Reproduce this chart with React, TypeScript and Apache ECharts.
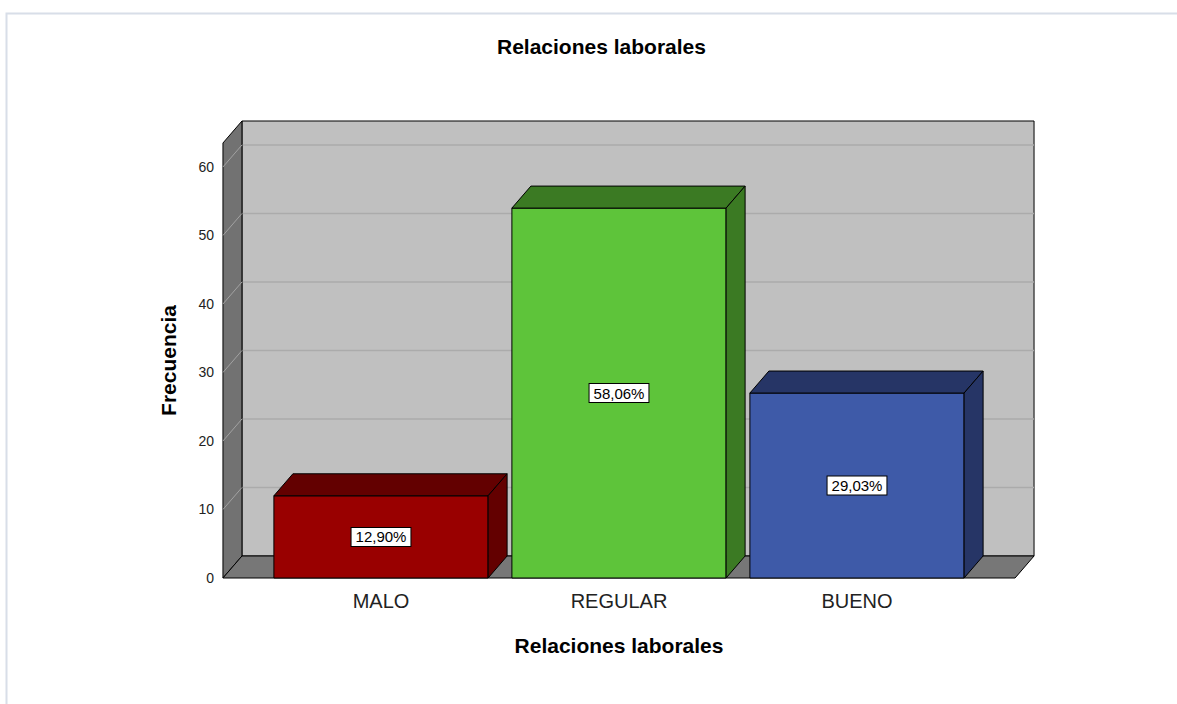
import React, { useEffect, useRef } from "react";
import * as echarts from "echarts";

const categories = ["MALO", "REGULAR", "BUENO"];
const counts = [12, 54, 27];
const frontColors = ["#990000", "#5ec43a", "#3e5aa8"];
const shadeColors = ["#630000", "#3b7a23", "#263566"];
const yTicks = [0, 10, 20, 30, 40, 50, 60];
const yMax = 63.5;

const total = counts.reduce((a, b) => a + b, 0);
const percentLabels = counts.map((c) => ((c / total) * 100).toFixed(2).replace(".", ",") + "%");

const DX = 19;
const DY = -22;
const FONT = "'Liberation Sans', Arial, sans-serif";

export default function App() {
  const ref = useRef<HTMLDivElement>(null);
  useEffect(() => {
    if (!ref.current) return;
    const chart = echarts.init(ref.current, null, { renderer: "svg" });

    const renderBox = (params: any, api: any) => {
      const cs = params.coordSys;
      const band = api.size([1, 0])[0];
      const pad = band * 0.164;
      const L = cs.x - pad;
      const R = cs.x + cs.width + pad;
      const bottom = api.coord([0, 0])[1];
      const top = api.coord([0, yMax])[1];
      const children: any[] = [];
      children.push({
        type: "rect",
        shape: { x: L + DX, y: top + DY, width: R - L, height: bottom - top },
        style: { fill: "#c0c0c0", stroke: "#000", lineWidth: 1 },
      });
      yTicks.forEach((v) => {
        if (v === 0) return;
        const y = api.coord([0, v])[1];
        children.push({
          type: "line",
          shape: { x1: L + DX, y1: y + DY, x2: R + DX, y2: y + DY },
          style: { stroke: "#ababab", lineWidth: 1.5 },
        });
      });
      children.push({
        type: "polygon",
        shape: { points: [[L, top], [L + DX, top + DY], [L + DX, bottom + DY], [L, bottom]] },
        style: { fill: "#727272", stroke: "#000", lineWidth: 1 },
      });
      yTicks.forEach((v) => {
        if (v === 0) return;
        const y = api.coord([0, v])[1];
        children.push({
          type: "line",
          shape: { x1: L, y1: y, x2: L + DX, y2: y + DY },
          style: { stroke: "#a2a2a2", lineWidth: 1 },
        });
      });
      children.push({
        type: "polygon",
        shape: { points: [[L, bottom], [L + DX, bottom + DY], [R + DX, bottom + DY], [R, bottom]] },
        style: { fill: "#777777", stroke: "#000", lineWidth: 1 },
      });
      return { type: "group", children };
    };

    const renderBar = (params: any, api: any) => {
      const idx = api.value(0);
      const val = api.value(1);
      const band = api.size([1, 0])[0];
      const w = band * 0.9;
      const [cx, y0] = api.coord([idx, 0]);
      const y1 = api.coord([idx, val])[1];
      const x0 = cx - w / 2;
      const x1 = cx + w / 2;
      const i = params.dataIndex;
      const stroke = { stroke: "#000", lineWidth: 1 };
      return {
        type: "group",
        children: [
          {
            type: "rect",
            shape: { x: x0, y: y1, width: w, height: y0 - y1 },
            style: { fill: frontColors[i], ...stroke },
          },
          {
            type: "polygon",
            shape: { points: [[x0, y1], [x0 + DX, y1 + DY], [x1 + DX, y1 + DY], [x1, y1]] },
            style: { fill: shadeColors[i], ...stroke },
          },
          {
            type: "polygon",
            shape: { points: [[x1, y1], [x1 + DX, y1 + DY], [x1 + DX, y0 + DY], [x1, y0]] },
            style: { fill: shadeColors[i], ...stroke },
          },
          {
            type: "text",
            x: cx,
            y: (y0 + y1) / 2,
            style: {
              text: percentLabels[i],
              fill: "#000",
              font: `15px ${FONT}`,
              align: "center",
              verticalAlign: "middle",
              backgroundColor: "#fff",
              borderColor: "#000",
              borderWidth: 1,
              padding: [2, 4, 1, 4],
            },
          },
        ],
      };
    };

    chart.setOption({
      animation: false,
      backgroundColor: "#fff",
      title: {
        text: "Relaciones laborales",
        left: 492,
        top: 31,
        textStyle: { fontFamily: FONT, fontSize: 21, fontWeight: "bold", color: "#000" },
      },
      graphic: [
        {
          type: "rect",
          shape: { x: 6.5, y: 13.5, width: 1200, height: 720 },
          style: { fill: "none", stroke: "#d8dee8", lineWidth: 2 },
          silent: true,
        },
      ],
      grid: { left: 262, right: 201, top: 143, bottom: 126 },
      xAxis: {
        type: "category",
        data: categories,
        name: "Relaciones laborales",
        nameLocation: "middle",
        nameGap: 57,
        nameTextStyle: { fontFamily: FONT, fontSize: 21, fontWeight: "bold", color: "#000" },
        axisLine: { show: false },
        axisTick: { show: false },
        axisLabel: { margin: 13, fontFamily: FONT, fontSize: 20, color: "#222" },
        splitLine: { show: false },
      },
      yAxis: {
        type: "value",
        min: 0,
        max: yMax,
        interval: 10,
        offset: 39,
        name: "Frecuencia",
        nameLocation: "middle",
        nameGap: 44,
        nameTextStyle: { fontFamily: FONT, fontSize: 21, fontWeight: "bold", color: "#000" },
        axisLine: { show: false },
        axisTick: { show: false },
        splitLine: { show: false },
        axisLabel: {
          margin: 9,
          fontFamily: FONT,
          fontSize: 14,
          color: "#222",
          formatter: (v: number) => (yTicks.indexOf(v) >= 0 ? String(v) : ""),
        },
      },
      series: [
        {
          type: "custom",
          name: "box",
          data: [[0, 0]],
          renderItem: renderBox,
          clip: false,
          silent: true,
          z: 1,
        },
        {
          type: "custom",
          name: "Frecuencia",
          data: counts.map((c, i) => [i, c]),
          renderItem: renderBar,
          clip: false,
          z: 2,
        },
      ],
    });
    return () => chart.dispose();
  }, []);
  return (
    <div
      ref={ref}
      style={{ position: "fixed", left: 0, top: 0, width: 1177, height: 704 }}
    />
  );
}
